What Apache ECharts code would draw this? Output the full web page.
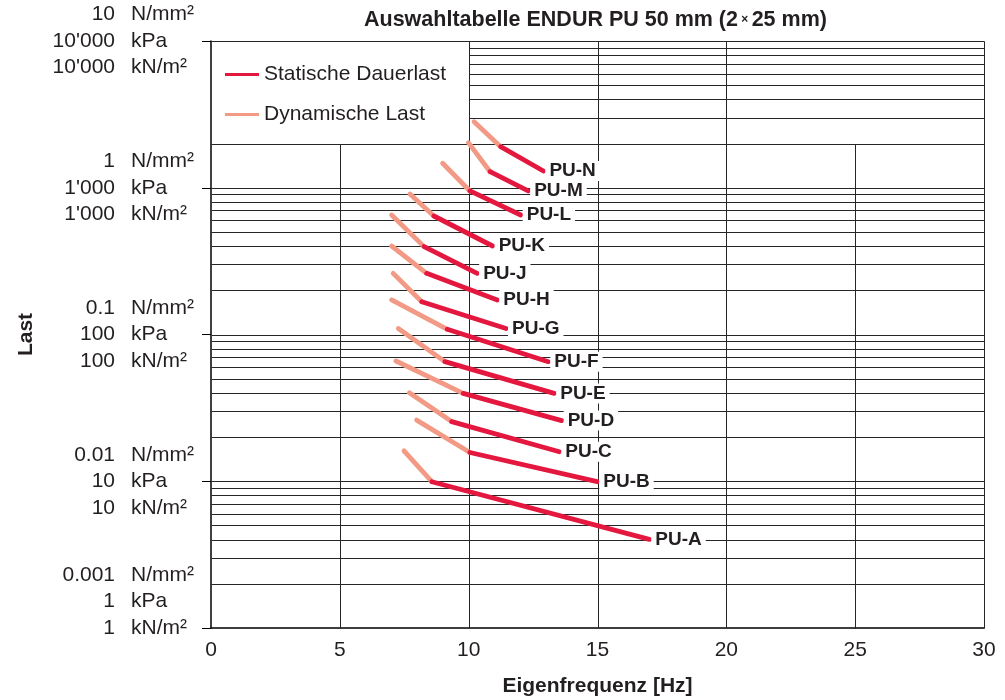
<!DOCTYPE html>
<html><head><meta charset="utf-8">
<script src="https://cdn.jsdelivr.net/npm/echarts@6/dist/echarts.min.js"></script>
<style>html,body{margin:0;padding:0;background:#fff}#c{width:1005px;height:700px}</style>
</head><body><div id="c"></div>
<script>
// ---- data ----
const products   = ['PU-A','PU-B','PU-C','PU-D','PU-E','PU-F','PU-G','PU-H','PU-J','PU-K','PU-L','PU-M','PU-N'];
const startFreq  = [7.49, 7.98, 7.70, 7.18, 7.27, 7.01, 7.07, 7.01, 7.01, 7.72, 8.99, 9.99, 10.21];
const startLoad  = [16.1, 26.1, 40.1, 66, 110, 172, 261, 401, 652, 906, 1468, 2028, 2818];
const kneeFreq   = [8.57, 10.05, 9.34, 9.79, 9.08, 9.17, 8.18, 8.37, 8.27, 8.65, 10.05, 10.83, 11.24];
const kneeLoad   = [9.93, 15.7, 25.5, 39.7, 65.3, 108.5, 167, 261, 397, 642, 951, 1286, 1905];
const endFreq    = [17.01, 14.99, 13.52, 13.61, 13.32, 13.09, 11.45, 11.11, 10.33, 10.93, 12.02, 12.31, 12.90];
const endLoad    = [4.02, 9.93, 15.9, 25.9, 39.7, 65.3, 110, 172, 261, 401, 652, 951, 1300];

const yTicks     = [1, 10, 100, 1000, 10000];
const labelsNmm  = ['0.001', '0.01', '0.1', '1', '10'];
const labelsKpa  = ['1', '10', '100', "1'000", "10'000"];
const unitLines  = ['N/mm²', 'kPa', 'kN/m²'];
const xTicks     = [0, 5, 10, 15, 20, 25, 30];
const minorMult  = [2, 3, 4, 5, 6, 7, 8, 9];

const staticName = 'Statische Dauerlast';
const dynName    = 'Dynamische Last';
const red    = '#e4173e';
const salmon = '#f29a85';
const ink    = '#231f20';
const FONT   = "'Liberation Sans', Arial, Helvetica, sans-serif";

// ---- grid segments [x1,y1,x2,y2] ----
const segs = [];
for (let d = 0; d < 4; d++) {
  const dec = yTicks[d];
  minorMult.forEach(m => {
    const v = m * dec;
    segs.push([v > 2000 ? 10 : 0, v, 30, v]);
  });
}
[10, 100, 1000, 10000].forEach(v => segs.push([0, v, 30, v]));
xTicks.slice(1).forEach(x => {
  const top = (x === 5 || x === 25) ? 2000 : 10000;
  segs.push([x, 1, x, top]);
});

const series = [{
  type: 'custom', name: 'grid', silent: true, z: 1,
  data: segs,
  encode: { x: [0, 2], y: [1, 3] },
  renderItem(params, api) {
    const p1 = api.coord([api.value(0), api.value(1)]);
    const p2 = api.coord([api.value(2), api.value(3)]);
    const r = v => Math.round(v) + 0.5;
    return { type: 'line', shape: { x1: r(p1[0]), y1: r(p1[1]), x2: r(p2[0]), y2: r(p2[1]) },
             style: { stroke: '#262626', lineWidth: 1 } };
  }
}];

products.forEach((p, i) => {
  series.push({
    type: 'line', name: dynName, silent: true, z: 3, symbol: 'none',
    data: [[startFreq[i], startLoad[i]], [kneeFreq[i], kneeLoad[i]]],
    lineStyle: { color: salmon, width: 4.8, cap: 'round' }, itemStyle: { color: salmon }
  });
  series.push({
    type: 'line', name: staticName, silent: true, z: 4, symbol: 'none',
    data: [[kneeFreq[i], kneeLoad[i]], [endFreq[i], endLoad[i]]],
    lineStyle: { color: red, width: 4.8, cap: 'round' }, itemStyle: { color: red },
    endLabel: { show: true, formatter: p, fontSize: 19, fontWeight: 'bold', color: ink,
                fontFamily: FONT, backgroundColor: '#fff', padding: [1, 4, 0, 4], distance: 2 }
  });
});

function tickIndex(value) {
  const k = Math.round(Math.log10(value));
  return yTicks.findIndex(t => Math.round(Math.log10(t)) === k);
}

const labelBase = { fontSize: 21, lineHeight: 26.5, color: ink, fontFamily: FONT };

const chart = echarts.init(document.getElementById('c'), null, { renderer: 'canvas' });
chart.setOption({
  animation: false,
  textStyle: { fontFamily: FONT, color: ink },
  title: {
    text: 'Auswahltabelle ENDUR PU 50 mm (2{s| × }25 mm)',
    left: 364, top: 9, padding: 0,
    textStyle: { fontSize: 21.5, fontWeight: 'bold', color: ink, fontFamily: FONT,
      rich: { s: { fontSize: 12, fontWeight: 'bold', color: ink, fontFamily: FONT } } }
  },
  legend: {
    left: 225, top: 64, padding: 0, orient: 'vertical', itemWidth: 34, itemHeight: 3, itemGap: 19,
    selectedMode: false,
    textStyle: { fontSize: 21, color: ink, fontFamily: FONT },
    data: [{ name: staticName, icon: 'rect', itemStyle: { color: red } },
           { name: dynName, icon: 'rect', itemStyle: { color: salmon } }]
  },
  grid: { left: 211, right: 21, top: 41, bottom: 72, containLabel: false, outerBoundsMode: 'none' },
  xAxis: {
    type: 'value', min: 0, max: 30, interval: 5,
    name: 'Eigenfrequenz [Hz]', nameLocation: 'middle', nameGap: 48, nameMoveOverlap: false,
    nameTextStyle: { fontSize: 21, fontWeight: 'bold', color: ink, fontFamily: FONT },
    axisLine: { show: true, lineStyle: { color: '#000', width: 1.5 } },
    axisTick: { show: false },
    splitLine: { show: false },
    axisLabel: { fontSize: 21, color: ink, margin: 12, fontFamily: FONT }
  },
  yAxis: [{
    type: 'log', logBase: 10, min: 1, max: 10000, splitNumber: 4,
    name: 'Last', nameLocation: 'middle', nameGap: 174, nameMoveOverlap: false,
    nameTextStyle: { fontSize: 21, fontWeight: 'bold', color: ink, fontFamily: FONT },
    axisLine: { show: true, onZero: false, lineStyle: { color: '#000', width: 1.5 } },
    axisTick: { show: true, inside: false, length: 9, lineStyle: { color: '#000', width: 1 } },
    splitLine: { show: false },
    axisLabel: Object.assign({}, labelBase, {
      margin: 96, align: 'right',
      formatter(value) {
        const idx = tickIndex(value);
        if (idx < 0) return '';
        let s = labelsNmm[idx] + '\n' + labelsKpa[idx] + '\n' + labelsKpa[idx];
        if (idx === 0) s += '\n \n ';
        return s;
      }
    })
  }, {
    type: 'log', logBase: 10, min: 1, max: 10000, splitNumber: 4, position: 'left', offset: 0,
    axisLine: { show: false }, axisTick: { show: false }, splitLine: { show: false },
    axisLabel: Object.assign({}, labelBase, {
      margin: 80, align: 'left',
      formatter(value) {
        const idx = tickIndex(value);
        if (idx < 0) return '';
        let s = unitLines.join('\n');
        if (idx === 0) s += '\n \n ';
        return s;
      }
    })
  }],
  series
});
</script>
</body></html>
